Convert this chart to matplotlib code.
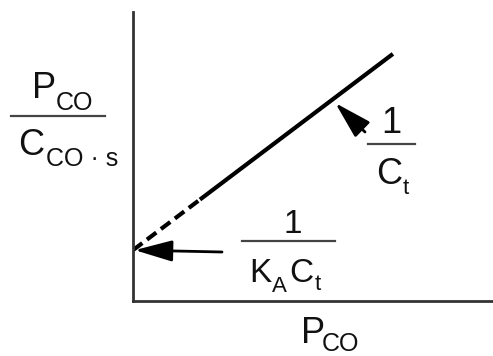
import matplotlib
matplotlib.use("Agg")
import matplotlib.pyplot as plt
from matplotlib.lines import Line2D

# Linear plot of P_CO / C_CO·s against P_CO
# dashed: extrapolation to the intercept, solid: measured range
x_dashed = [0.0, 1.86]
y_dashed = [1.76, 3.51]
x_solid = [1.86, 7.22]
y_solid = [3.51, 8.55]

# point on the line the slope arrow refers to
slope_point = (5.62, 6.85)
intercept_point = (0.05, 1.76)

W, H = 493, 356
plt.rcParams["font.family"] = ["Liberation Sans", "DejaVu Sans"]
fig = plt.figure(figsize=(W / 100, H / 100), dpi=100)
fig.patch.set_facecolor("white")

ax = fig.add_axes([133 / W, 55 / H, 360 / W, 289 / H])
ax.set_xlim(0, 10)
ax.set_ylim(0, 10)
for s in ("top", "right"):
    ax.spines[s].set_visible(False)
for s in ("left", "bottom"):
    ax.spines[s].set_linewidth(2.0)
    ax.spines[s].set_color("#333333")
ax.set_xticks([])
ax.set_yticks([])

ax.plot(x_dashed, y_dashed, color="black", lw=3, linestyle=(0, (2.8, 1.4)),
        solid_capstyle="butt", dash_capstyle="butt")
ax.plot(x_solid, y_solid, color="black", lw=3, solid_capstyle="butt")


def fx(px):
    return px / W


def fy(py):
    return 1 - py / H


def txt(px, py, s, size):
    fig.text(fx(px), fy(py), s, fontsize=size, ha="left", va="baseline",
             color="#111111", transform=fig.transFigure)


def bar(x0, x1, py):
    fig.add_artist(Line2D([fx(x0), fx(x1)], [fy(py), fy(py)], lw=1.6,
                          color="#444444", transform=fig.transFigure))


BIG = 26
SUB = 18

# y-axis label: P_CO / C_CO·s
txt(32, 98, "P", BIG)
txt(56, 110, "CO", SUB)
bar(11, 105, 116)
txt(18, 155, "C", BIG)
txt(46, 166, "CO · s", SUB)

# x-axis label
txt(301, 343, "P", BIG)
txt(322, 351, "CO", SUB)

# intercept label 1 / (K_A C_t)
FR = 24
FRS = 16
fig.text(fx(293), fy(233), "1", fontsize=FR, ha="center", va="baseline",
         color="#111111")
bar(242, 335, 241)
txt(249, 282, "K", FR)
txt(272, 292, "A", FRS)
txt(289, 282, "C", FR)
txt(315, 290, "t", FRS)

# slope label 1 / C_t
FR2 = 26
fig.text(fx(391), fy(133), "1", fontsize=FR2, ha="center", va="baseline",
         color="#111111")
bar(368, 415, 144)
txt(376, 184, "C", FR2)
txt(403, 194, "t", FRS)

arrow = dict(arrowstyle="-|>,head_length=2.3,head_width=0.65", color="black",
             lw=2.0, shrinkA=0, shrinkB=0, mutation_scale=10)
ax.annotate("", xy=intercept_point, xycoords="data",
            xytext=(fx(222), fy(252)), textcoords="figure fraction",
            arrowprops=arrow)
ax.annotate("", xy=slope_point, xycoords="data",
            xytext=(fx(365), fy(132)), textcoords="figure fraction",
            arrowprops=arrow)

fig.savefig("out.png", dpi=100, facecolor="white")
